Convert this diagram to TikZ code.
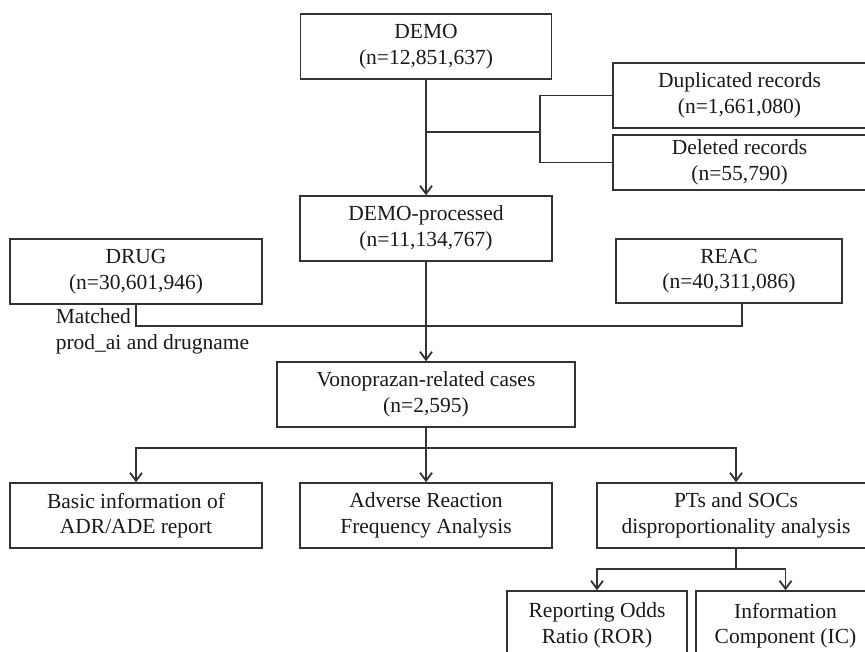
\documentclass[tikz,border=0pt]{standalone}
\usepackage{fontspec}
\setmainfont{Liberation Serif}
\usetikzlibrary{arrows.meta}

\begin{document}
\begin{tikzpicture}[x=1pt, y=-1pt, line width=1.8pt, draw=black!80,
  every node/.style = {shape=rectangle, draw=black!80, line width=1.5pt, align=center,
    inner sep=0pt, text=black!90, font=\fontsize{21.5}{25.5}\selectfont},
  cell/.style 2 args = {minimum width=#1, minimum height=#2},
  arr/.style = {-{Straight Barb[length=8pt,width=12pt]}}]
  \clip (0,0) rectangle (865,652);
  % boxes
  \node[cell={251pt}{65pt}] (demo) at (426,46.5) {DEMO\\(n=12,851,637)};
  \node[cell={253pt}{65pt}] (dup) at (739.5,95.5) {Duplicated records\\(n=1,661,080)};
  \node[cell={253pt}{55pt}] (del) at (739.5,162.5) {Deleted records\\(n=55,790)};
  \node[cell={252pt}{65pt}] (proc) at (426,228.5) {DEMO-processed\\(n=11,134,767)};
  \node[cell={252pt}{65pt}] (drug) at (136,271.5) {DRUG\\(n=30,601,946)};
  \node[cell={226pt}{64pt}] (reac) at (729,271) {REAC\\(n=40,311,086)};
  \node[draw=none, align=left, anchor=north west] (match) at (55,308) {Matched\\prod\_ai and drugname};
  \node[cell={298pt}{65pt}] (vono) at (426,394.5) {Vonoprazan-related cases\\(n=2,595)};
  \node[cell={252pt}{65pt}] (basic) at (136,515.5) {Basic information of\\ADR/ADE report};
  \node[cell={252pt}{65pt}] (adv) at (426,515.5) {Adverse Reaction\\Frequency Analysis};
  \node[cell={278pt}{65pt}] (pts) at (736,515.5) {PTs and SOCs\\disproportionality analysis};
  \node[cell={180pt}{69pt}] (ror) at (597,625.5) {Reporting Odds\\Ratio (ROR)};
  \node[cell={179pt}{69pt}] (ic) at (785.5,625.5) {Information\\Component (IC)};
  % connectors
  \coordinate (split) at (426,132);
  \coordinate (brk) at (540,132);
  \coordinate (join) at (426,326);
  \coordinate (fork) at (426,448);
  \coordinate (fork2) at (736,569);
  \draw[arr] (demo.south) -- (proc.north);
  \draw (split) -- (brk);
  \draw (dup.west) -| (brk) |- (del.west);
  \draw (drug.south) |- (join) -| ([xshift=13pt]reac.south);
  \draw[arr] (proc.south) -- (vono.north);
  \draw (vono.south) -- (fork);
  \draw[arr] (fork) -| (basic.north);
  \draw[arr] (fork) -- (adv.north);
  \draw[arr] (fork) -| (pts.north);
  \draw (pts.south) -- (fork2);
  \draw[arr] (fork2) -| (ror.north);
  \draw[arr] (fork2) -| (ic.north);
\end{tikzpicture}
\end{document}
